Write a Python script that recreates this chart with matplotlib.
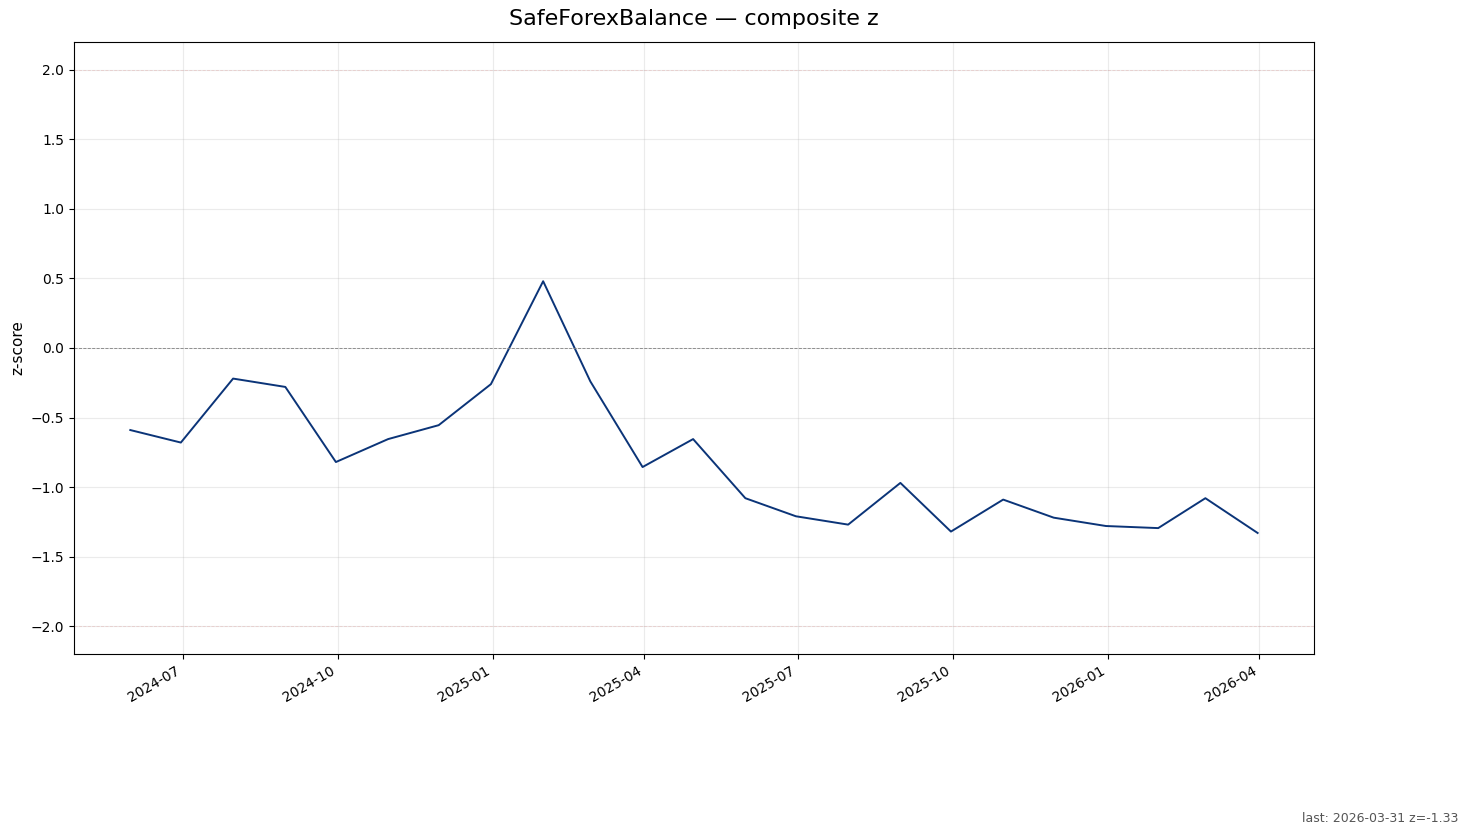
import matplotlib
matplotlib.use("Agg")
import matplotlib.pyplot as plt
import pandas as pd

dates = pd.date_range("2024-05-31", "2026-03-31", freq="ME")
zscores = [-0.59, -0.68, -0.22, -0.28, -0.82, -0.655, -0.555, -0.26, 0.48, -0.24,
           -0.856, -0.655, -1.08, -1.21, -1.27, -0.97, -1.32, -1.09, -1.22, -1.28,
           -1.295, -1.08, -1.33]
title = "SafeForexBalance \u2014 composite z"

fig = plt.figure(figsize=(14.67, 8.35), dpi=100)
ax = fig.add_axes([0.0504, 0.2168, 0.8453, 0.7329])

ax.plot(dates, zscores, color="#0b3478", linewidth=1.4)
ax.axhline(0, color="gray", linestyle="--", linewidth=0.6)
ax.axhline(2, color="#d9534f", linestyle="--", linewidth=0.6, alpha=0.2)
ax.axhline(-2, color="#d9534f", linestyle="--", linewidth=0.6, alpha=0.2)
ax.grid(True, alpha=0.25)
ax.set_ylim(-2.2, 2.2)
ax.set_ylabel("z-score", fontsize=11)
ax.set_title(title, fontsize=16, pad=12)
fig.autofmt_xdate()
ax.set_position([0.0504, 0.2168, 0.8453, 0.7329])

fig.text(0.994, 0.012, f"last: {dates[-1]:%Y-%m-%d} z={zscores[-1]:.2f}",
         ha="right", va="bottom", fontsize=9, color="#555555")

fig.savefig("out.png", dpi=100)
